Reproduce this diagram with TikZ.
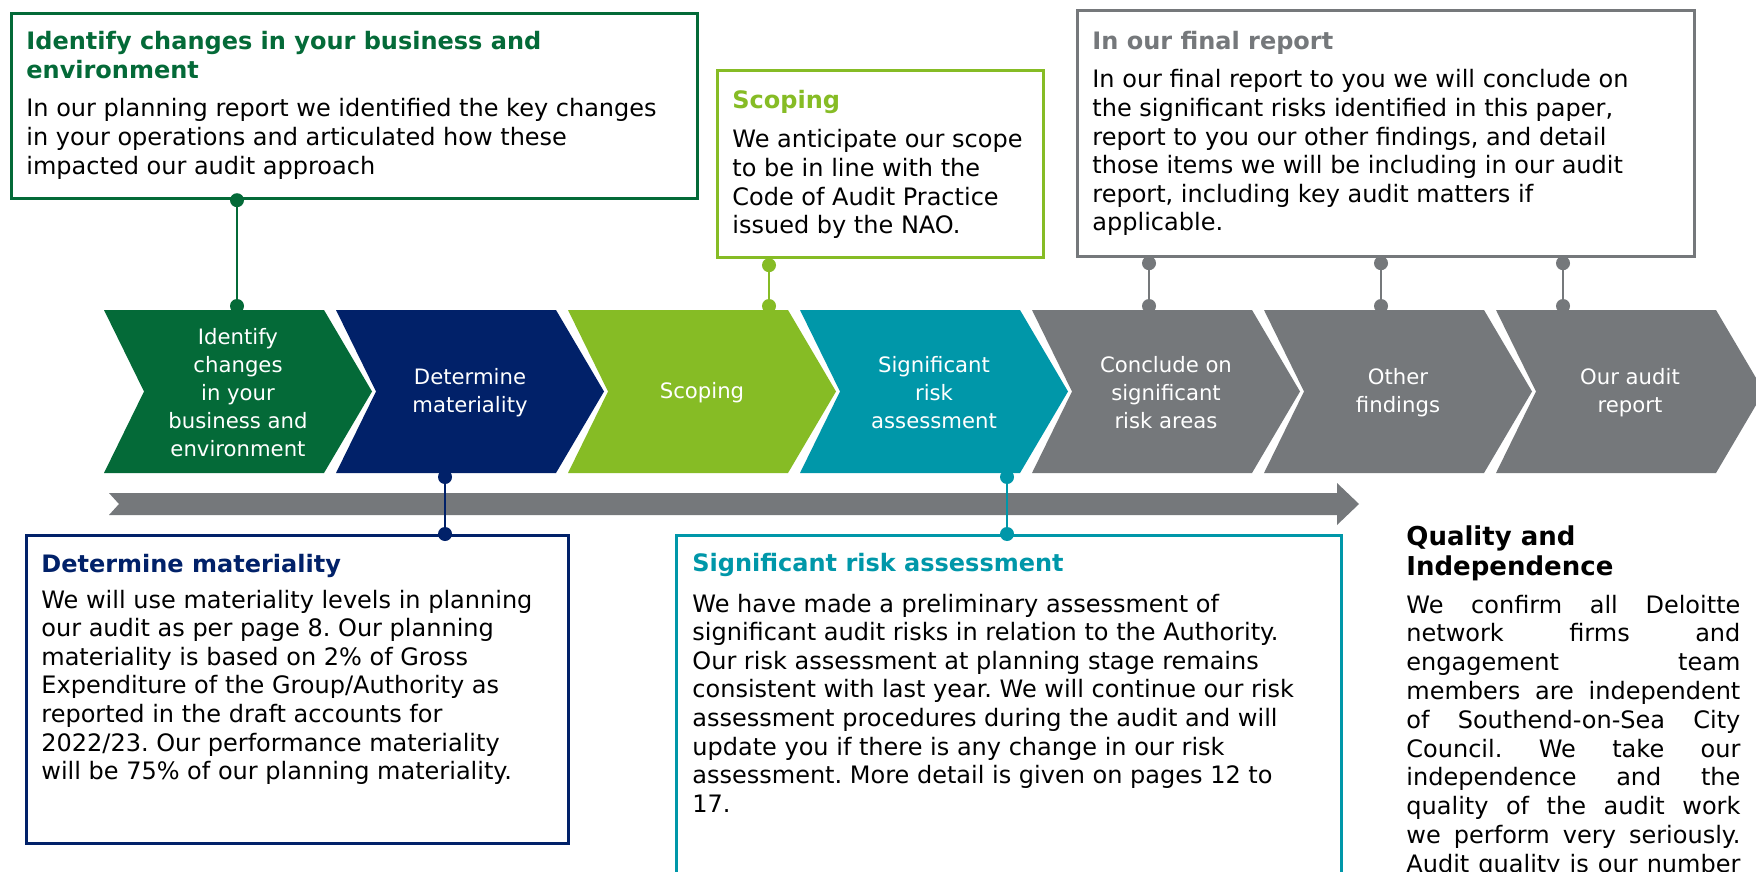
\documentclass[tikz,border=0pt]{standalone}
\usepackage{fontspec}
\setmainfont{DejaVu Sans}
\frenchspacing
\definecolor{dgreen}{HTML}{046A38}
\definecolor{dnavy}{HTML}{012169}
\definecolor{dlime}{HTML}{86BC25}
\definecolor{dteal}{HTML}{0097A9}
\definecolor{dgray}{HTML}{75787B}
\newcommand\toplines[1]{\begin{tabular}[t]{@{}l@{}}#1\end{tabular}}
\tikzset{
  infobox/.style={draw, line width=1.6pt, fill=white, rectangle, inner sep=0pt, anchor=north west},
  ttl/.style={font=\fontsize{12}{14.5}\selectfont\bfseries\frenchspacing, anchor=base west, inner sep=0pt},
  bdy/.style={font=\fontsize{12}{14.3}\selectfont\frenchspacing, anchor=base west, inner sep=0pt, text=black},
  chtxt/.style={font=\fontsize{10.6}{14}\selectfont, text=white, align=center, inner sep=0pt},
  conn/.style={line width=1.2pt},
  cdot/.style={circle, inner sep=0pt, minimum size=7pt, fill},
}
\newcommand\mychev[4]{%
  \fill[#2] (#1,310) -- (#1+220,310) -- (#1+268,391.5) -- (#1+220,473) -- (#1,473) -- (#1+40,391.5) -- cycle;
  \node[chtxt] (#3) at (#1+134,393) {#4};}
\begin{document}
\begin{tikzpicture}[x=0.5pt,y=-0.5pt]
\useasboundingbox (0,0) rectangle (1756,872);
\fill[white] (0,0) rectangle (1756,872);
\clip (0,0) rectangle (1756,872);

% connector end points on chevrons
\coordinate (c1t) at (237,310);
\coordinate (c2b) at (445,473);
\coordinate (c3t) at (769,310);
\coordinate (c4b) at (1007,473);
\coordinate (c5t) at (1149,310);
\coordinate (c6t) at (1381,310);
\coordinate (c7t) at (1563,310);

% boxes
\node[infobox, draw=dgreen, minimum width=343pt, minimum height=92.5pt] (gbox) at (10,12) {};
\node[infobox, draw=dlime, minimum width=163pt, minimum height=93.5pt] (sbox) at (716,69) {};
\node[infobox, draw=dgray, minimum width=308.5pt, minimum height=123pt] (fbox) at (1076,9) {};
\node[infobox, draw=dnavy, minimum width=271pt, minimum height=154pt] (mbox) at (25,534) {};
\node[infobox, draw=dteal, minimum width=332.5pt, minimum height=190pt] (rbox) at (675,534) {};

% long gray arrow
\fill[dgray] (109,493) -- (1337,493) -- (1337,483) -- (1359,504) -- (1337,525) -- (1337,515) -- (109,515) -- (119,504) -- cycle;

% connector lines
\draw[conn, dgreen] (gbox.south -| c1t) -- (c1t);
\draw[conn, dnavy] (c2b) -- (mbox.north -| c2b);
\draw[conn, dlime] (sbox.south -| c3t) -- (c3t);
\draw[conn, dteal] (c4b) -- (rbox.north -| c4b);
\draw[conn, dgray] (fbox.south -| c5t) -- (c5t);
\draw[conn, dgray] (fbox.south -| c6t) -- (c6t);
\draw[conn, dgray] (fbox.south -| c7t) -- (c7t);

% dots at chevron ends (half hidden)
\node[cdot, dgreen] (d1) at ([yshift=2pt]c1t) {};
\node[cdot, dnavy] (d2) at ([yshift=-2pt]c2b) {};
\node[cdot, dlime] (d3) at ([yshift=2pt]c3t) {};
\node[cdot, dteal] (d4) at ([yshift=-2pt]c4b) {};
\node[cdot, dgray] (d5) at ([yshift=2pt]c5t) {};
\node[cdot, dgray] (d6) at ([yshift=2pt]c6t) {};
\node[cdot, dgray] (d7) at ([yshift=2pt]c7t) {};

% chevrons
\mychev{104}{dgreen}{ch1}{Identify\\changes\\in your\\business and\\environment}
\mychev{336}{dnavy}{ch2}{Determine\\materiality}
\mychev{568}{dlime}{ch3}{Scoping}
\mychev{800}{dteal}{ch4}{Significant\\risk\\assessment}
\mychev{1032}{dgray}{ch5}{Conclude on\\significant\\risk areas}
\mychev{1264}{dgray}{ch6}{Other\\findings}
\mychev{1496}{dgray}{ch7}{Our audit\\report}

% dots at box ends
\node[cdot, dgreen] (e1) at (gbox.south -| c1t) {};
\node[cdot, dnavy] (e2) at (mbox.north -| c2b) {};
\node[cdot, dlime] (e3) at ([yshift=-3pt]sbox.south -| c3t) {};
\node[cdot, dteal] (e4) at (rbox.north -| c4b) {};
\node[cdot, dgray] (e5) at ([yshift=-2.5pt]fbox.south -| c5t) {};
\node[cdot, dgray] (e6) at ([yshift=-2.5pt]fbox.south -| c6t) {};
\node[cdot, dgray] (e7) at ([yshift=-2.5pt]fbox.south -| c7t) {};

% texts
\node[ttl, text=dgreen] (gt) at (26,50) {\toplines{Identify changes in your business and\\environment}};
\node[bdy] (gb) at (26,117) {\toplines{In our planning report we identified the key changes\\in your operations and articulated how these\\impacted our audit approach}};

\node[ttl, text=dlime] (st) at (732,109) {Scoping};
\node[bdy] (sb) at (732,148) {\toplines{We anticipate our scope\\to be in line with the\\Code of Audit Practice\\issued by the NAO.}};

\node[ttl, text=dgray] (ft) at (1092,50) {In our final report};
\node[bdy] (fb) at (1092,88) {\toplines{In our final report to you we will conclude on\\the significant risks identified in this paper,\\report to you our other findings, and detail\\those items we will be including in our audit\\report, including key audit matters if\\applicable.}};

\node[ttl, text=dnavy] (mt) at (41,572) {Determine materiality};
\node[bdy] (mb) at (41,608) {\toplines{We will use materiality levels in planning\\our audit as per page 8. Our planning\\materiality is based on 2\% of Gross\\Expenditure of the Group/Authority as\\reported in the draft accounts for\\2022/23. Our performance materiality\\will be 75\% of our planning materiality.}};

\node[ttl, text=dteal] (rt) at (692,571) {Significant risk assessment};
\node[bdy] (rb) at (692,612) {\toplines{We have made a preliminary assessment of\\significant audit risks in relation to the Authority.\\Our risk assessment at planning stage remains\\consistent with last year. We will continue our risk\\assessment procedures during the audit and will\\update you if there is any change in our risk\\assessment. More detail is given on pages 12 to\\17.}};

\node[ttl, font=\fontsize{13}{15}\selectfont\bfseries, text=black] (qt) at (1406,545) {\toplines{Quality and\\Independence}};
\node[bdy, font=\fontsize{12}{14.4}\selectfont\frenchspacing] (qb) at (1406,613) {\toplines{%
\makebox[167pt][s]{We confirm all Deloitte}\\
\makebox[167pt][s]{network firms and}\\
\makebox[167pt][s]{engagement team}\\
\makebox[167pt][s]{members are independent}\\
\makebox[167pt][s]{of Southend-on-Sea City}\\
\makebox[167pt][s]{Council. We take our}\\
\makebox[167pt][s]{independence and the}\\
\makebox[167pt][s]{quality of the audit work}\\
\makebox[167pt][s]{we perform very seriously.}\\
\makebox[167pt][s]{Audit quality is our number}}};
\end{tikzpicture}
\end{document}
